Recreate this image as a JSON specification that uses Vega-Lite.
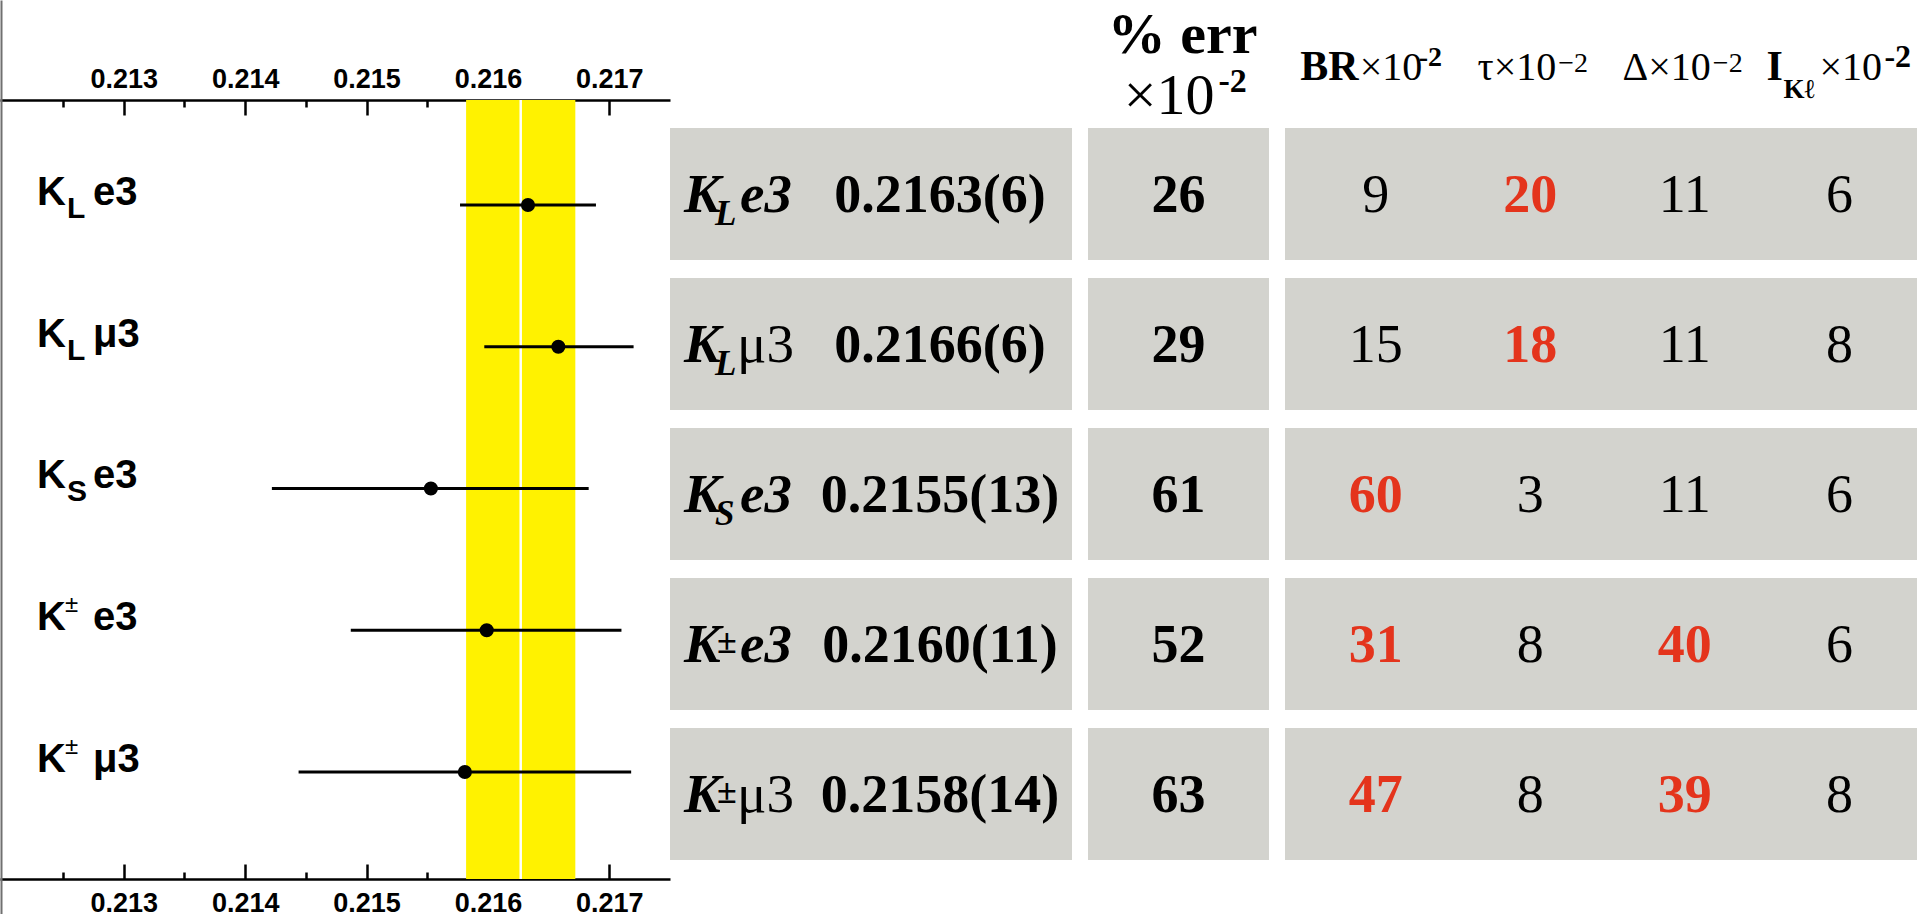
{
"$schema": "https://vega.github.io/schema/vega-lite/v6.json",
"padding": 0,
"background": "white",
"config": {"view": {"stroke": null}, "font": "Liberation Serif"},
"datasets": {
 "fit": [
  {"decay": "K_L e3", "row": 0, "value": 0.21633, "lo": 0.21577, "hi": 0.21689, "base": "K", "sub": "L", "sup": "", "rest": "e3"},
  {"decay": "K_L mu3", "row": 1, "value": 0.21658, "lo": 0.21597, "hi": 0.21720, "base": "K", "sub": "L", "sup": "", "rest": "μ3"},
  {"decay": "K_S e3", "row": 2, "value": 0.21553, "lo": 0.21422, "hi": 0.21683, "base": "K", "sub": "S", "sup": "", "rest": "e3"},
  {"decay": "K± e3", "row": 3, "value": 0.21599, "lo": 0.21487, "hi": 0.21710, "base": "K", "sub": "", "sup": "±", "rest": "e3"},
  {"decay": "K± mu3", "row": 4, "value": 0.21581, "lo": 0.21444, "hi": 0.21718, "base": "K", "sub": "", "sup": "±", "rest": "μ3"}
 ],
 "average": [{"mean": 0.21627, "lo": 0.21582, "hi": 0.21672}],
 "table": [
  {"decay": "K_L e3", "base": "K", "sub": "L", "sup": "", "rest": "e3", "vus": "0.2163(6)", "err": "26"},
  {"decay": "K_L mu3", "base": "K", "sub": "L", "sup": "", "rest": "μ3", "vus": "0.2166(6)", "err": "29"},
  {"decay": "K_S e3", "base": "K", "sub": "S", "sup": "", "rest": "e3", "vus": "0.2155(13)", "err": "61"},
  {"decay": "K± e3", "base": "K", "sub": "", "sup": "±", "rest": "e3", "vus": "0.2160(11)", "err": "52"},
  {"decay": "K± mu3", "base": "K", "sub": "", "sup": "±", "rest": "μ3", "vus": "0.2158(14)", "err": "63"}
 ],
 "contrib": [
  {"decay": "K_L e3", "source": "BR", "pct": "9", "major": false},
  {"decay": "K_L e3", "source": "tau", "pct": "20", "major": true},
  {"decay": "K_L e3", "source": "Delta", "pct": "11", "major": false},
  {"decay": "K_L e3", "source": "I", "pct": "6", "major": false},
  {"decay": "K_L mu3", "source": "BR", "pct": "15", "major": false},
  {"decay": "K_L mu3", "source": "tau", "pct": "18", "major": true},
  {"decay": "K_L mu3", "source": "Delta", "pct": "11", "major": false},
  {"decay": "K_L mu3", "source": "I", "pct": "8", "major": false},
  {"decay": "K_S e3", "source": "BR", "pct": "60", "major": true},
  {"decay": "K_S e3", "source": "tau", "pct": "3", "major": false},
  {"decay": "K_S e3", "source": "Delta", "pct": "11", "major": false},
  {"decay": "K_S e3", "source": "I", "pct": "6", "major": false},
  {"decay": "K± e3", "source": "BR", "pct": "31", "major": true},
  {"decay": "K± e3", "source": "tau", "pct": "8", "major": false},
  {"decay": "K± e3", "source": "Delta", "pct": "40", "major": true},
  {"decay": "K± e3", "source": "I", "pct": "6", "major": false},
  {"decay": "K± mu3", "source": "BR", "pct": "47", "major": true},
  {"decay": "K± mu3", "source": "tau", "pct": "8", "major": false},
  {"decay": "K± mu3", "source": "Delta", "pct": "39", "major": true},
  {"decay": "K± mu3", "source": "I", "pct": "8", "major": false}
 ],
 "headers": [
  {"col": "err", "title": "% err", "mult": "×10", "exp": "-2"},
  {"col": "BR", "title": "BR", "mult": "×10", "exp": "-2"},
  {"col": "tau", "title": "τ×10", "mult": "", "exp": "−2"},
  {"col": "Delta", "title": "Δ×10", "mult": "", "exp": "−2"},
  {"col": "I", "title": "I", "sub": "Kℓ", "mult": "×10", "exp": "-2"}
 ]
},
"spacing": 0,
"bounds": "flush",
"hconcat": [
 {
  "width": 670, "height": 914,
  "resolve": {"axis": {"x": "independent", "y": "independent"}},
  "layer": [
   {"data": {"name": "average"},
    "mark": {"type": "rect", "color": "#fff200"},
    "encoding": {
     "x": {"field": "lo", "type": "quantitative", "scale": {"domain": [0.21198, 0.2175], "nice": false, "zero": false},
       "axis": {"orient": "top", "offset": -100, "values": [0.213, 0.214, 0.215, 0.216, 0.217], "format": ".3f", "tickSize": -15, "tickWidth": 2.5, "tickColor": "black", "domain": true, "domainColor": "black", "domainWidth": 2.5, "labelFont": "Liberation Sans", "labelFontWeight": "bold", "labelFontSize": 27, "labelColor": "black", "labelPadding": 22, "labelFlush": false, "labelOverlap": false, "grid": false, "title": null}},
     "x2": {"field": "hi"},
     "y": {"datum": -0.7407, "type": "quantitative", "scale": {"domain": [-1.4462, 5.0018], "reverse": true, "nice": false, "zero": false},
       "axis": {"orient": "left", "offset": -1, "domain": true, "domainColor": "#707070", "domainWidth": 2, "ticks": false, "labels": false, "grid": false, "title": null}},
     "y2": {"datum": 4.7549}
    }},
   {"data": {"name": "average"},
    "mark": {"type": "rule", "color": "white", "strokeWidth": 2.5},
    "encoding": {
     "x": {"field": "mean", "type": "quantitative", "scale": {"domain": [0.21198, 0.2175], "nice": false, "zero": false},
       "axis": {"orient": "top", "offset": -100, "values": [0.2125, 0.2135, 0.2145, 0.2155, 0.2165], "tickSize": -7, "tickWidth": 2.5, "tickColor": "black", "domain": false, "labels": false, "grid": false, "title": null}},
     "y": {"datum": -0.7407, "type": "quantitative", "scale": {"domain": [-1.4462, 5.0018], "reverse": true, "nice": false, "zero": false}, "axis": null},
     "y2": {"datum": 4.7549}
    }},
   {"data": {"name": "fit"},
    "mark": {"type": "rule", "color": "black", "strokeWidth": 2.8},
    "encoding": {
     "x": {"field": "lo", "type": "quantitative", "scale": {"domain": [0.21198, 0.2175], "nice": false, "zero": false},
       "axis": {"orient": "bottom", "offset": -35, "values": [0.213, 0.214, 0.215, 0.216, 0.217], "format": ".3f", "tickSize": -15, "tickWidth": 2.5, "tickColor": "black", "domain": true, "domainColor": "black", "domainWidth": 2.5, "labelFont": "Liberation Sans", "labelFontWeight": "bold", "labelFontSize": 27, "labelColor": "black", "labelPadding": 26, "labelFlush": false, "labelOverlap": false, "grid": false, "title": null}},
     "x2": {"field": "hi"},
     "y": {"field": "row", "type": "quantitative", "scale": {"domain": [-1.4462, 5.0018], "reverse": true, "nice": false, "zero": false}, "axis": null}
    }},
   {"data": {"name": "fit"},
    "mark": {"type": "circle", "color": "black", "opacity": 1, "size": 200},
    "encoding": {
     "x": {"field": "value", "type": "quantitative", "scale": {"domain": [0.21198, 0.2175], "nice": false, "zero": false},
       "axis": {"orient": "bottom", "offset": -35, "values": [0.2125, 0.2135, 0.2145, 0.2155, 0.2165], "tickSize": -7, "tickWidth": 2.5, "tickColor": "black", "domain": false, "labels": false, "grid": false, "title": null}},
     "y": {"field": "row", "type": "quantitative", "scale": {"domain": [-1.4462, 5.0018], "reverse": true, "nice": false, "zero": false}, "axis": null}
    }},
   {"data": {"name": "fit"},
    "mark": {"type": "text", "font": "Liberation Sans", "fontWeight": "bold", "fontSize": 40, "align": "left", "baseline": "alphabetic", "dx": 37, "color": "black"},
    "encoding": {
     "x": {"datum": 0.21198, "type": "quantitative", "scale": {"domain": [0.21198, 0.2175], "nice": false, "zero": false}, "axis": null},
     "y": {"field": "row", "type": "quantitative", "scale": {"domain": [-1.4462, 5.0018], "reverse": true, "nice": false, "zero": false}, "axis": null},
     "text": {"field": "base"}
    }},
   {"data": {"name": "fit"},
    "transform": [{"filter": "datum.sub != ''"}],
    "mark": {"type": "text", "font": "Liberation Sans", "fontWeight": "bold", "fontSize": 30, "align": "left", "baseline": "alphabetic", "dx": 67, "dy": 13, "color": "black"},
    "encoding": {
     "x": {"datum": 0.21198, "type": "quantitative", "scale": {"domain": [0.21198, 0.2175], "nice": false, "zero": false}, "axis": null},
     "y": {"field": "row", "type": "quantitative", "scale": {"domain": [-1.4462, 5.0018], "reverse": true, "nice": false, "zero": false}, "axis": null},
     "text": {"field": "sub"}
    }},
   {"data": {"name": "fit"},
    "transform": [{"filter": "datum.sup != ''"}],
    "mark": {"type": "text", "font": "Liberation Sans", "fontWeight": "normal", "fontSize": 24, "align": "left", "baseline": "alphabetic", "dx": 65, "dy": -18, "color": "black"},
    "encoding": {
     "x": {"datum": 0.21198, "type": "quantitative", "scale": {"domain": [0.21198, 0.2175], "nice": false, "zero": false}, "axis": null},
     "y": {"field": "row", "type": "quantitative", "scale": {"domain": [-1.4462, 5.0018], "reverse": true, "nice": false, "zero": false}, "axis": null},
     "text": {"field": "sup"}
    }},
   {"data": {"name": "fit"},
    "mark": {"type": "text", "font": "Liberation Sans", "fontWeight": "bold", "fontSize": 40, "align": "left", "baseline": "alphabetic", "dx": 93, "color": "black"},
    "encoding": {
     "x": {"datum": 0.21198, "type": "quantitative", "scale": {"domain": [0.21198, 0.2175], "nice": false, "zero": false}, "axis": null},
     "y": {"field": "row", "type": "quantitative", "scale": {"domain": [-1.4462, 5.0018], "reverse": true, "nice": false, "zero": false}, "axis": null},
     "text": {"field": "rest"}
    }}
  ]
 },
 {
  "spacing": 16,
  "bounds": "flush",
  "hconcat": [
   {
    "width": 402, "height": 914,
    "data": {"name": "table"},
    "layer": [
     {"mark": {"type": "rect", "color": "#d3d3ce"},
      "encoding": {
       "x": {"value": 0}, "x2": {"value": "width"},
       "y": {"field": "decay", "type": "nominal", "scale": {"type": "band", "domain": ["K_L e3", "K_L mu3", "K_S e3", "K± e3", "K± mu3"], "paddingInner": 0.12, "paddingOuter": 0.6067, "align": 0.703}, "axis": null}
      }},
     {"mark": {"type": "text", "font": "Liberation Serif", "fontWeight": "bold", "fontStyle": "italic", "fontSize": 55, "align": "left", "baseline": "alphabetic", "dy": 18, "color": "black"},
      "encoding": {
       "x": {"datum": "name", "type": "nominal", "scale": {"type": "point", "domain": ["name", "value"], "padding": 0.285, "align": 0.096}, "axis": null},
       "y": {"field": "decay", "type": "nominal", "scale": {"type": "band", "domain": ["K_L e3", "K_L mu3", "K_S e3", "K± e3", "K± mu3"], "paddingInner": 0.12, "paddingOuter": 0.6067, "align": 0.703}, "axis": null},
       "text": {"field": "base"}
      }},
     {"transform": [{"filter": "datum.sub != ''"}],
      "mark": {"type": "text", "font": "Liberation Serif", "fontWeight": "bold", "fontStyle": "italic", "fontSize": 35, "align": "left", "baseline": "alphabetic", "dx": 31, "dy": 31, "color": "black"},
      "encoding": {
       "x": {"datum": "name", "type": "nominal", "scale": {"type": "point", "domain": ["name", "value"], "padding": 0.285, "align": 0.096}, "axis": null},
       "y": {"field": "decay", "type": "nominal", "scale": {"type": "band", "domain": ["K_L e3", "K_L mu3", "K_S e3", "K± e3", "K± mu3"], "paddingInner": 0.12, "paddingOuter": 0.6067, "align": 0.703}, "axis": null},
       "text": {"field": "sub"}
      }},
     {"transform": [{"filter": "datum.sup != ''"}],
      "mark": {"type": "text", "font": "Liberation Serif", "fontWeight": "bold", "fontSize": 36, "align": "left", "baseline": "alphabetic", "dx": 33, "dy": 9, "color": "black"},
      "encoding": {
       "x": {"datum": "name", "type": "nominal", "scale": {"type": "point", "domain": ["name", "value"], "padding": 0.285, "align": 0.096}, "axis": null},
       "y": {"field": "decay", "type": "nominal", "scale": {"type": "band", "domain": ["K_L e3", "K_L mu3", "K_S e3", "K± e3", "K± mu3"], "paddingInner": 0.12, "paddingOuter": 0.6067, "align": 0.703}, "axis": null},
       "text": {"field": "sup"}
      }},
     {"transform": [{"filter": "datum.rest == 'e3'"}],
      "mark": {"type": "text", "font": "Liberation Serif", "fontWeight": "bold", "fontStyle": "italic", "fontSize": 55, "align": "left", "baseline": "alphabetic", "dx": 56, "dy": 18, "color": "black"},
      "encoding": {
       "x": {"datum": "name", "type": "nominal", "scale": {"type": "point", "domain": ["name", "value"], "padding": 0.285, "align": 0.096}, "axis": null},
       "y": {"field": "decay", "type": "nominal", "scale": {"type": "band", "domain": ["K_L e3", "K_L mu3", "K_S e3", "K± e3", "K± mu3"], "paddingInner": 0.12, "paddingOuter": 0.6067, "align": 0.703}, "axis": null},
       "text": {"field": "rest"}
      }},
     {"transform": [{"filter": "datum.rest != 'e3'"}],
      "mark": {"type": "text", "font": "Liberation Serif", "fontWeight": "normal", "fontSize": 55, "align": "left", "baseline": "alphabetic", "dx": 53, "dy": 18, "color": "black"},
      "encoding": {
       "x": {"datum": "name", "type": "nominal", "scale": {"type": "point", "domain": ["name", "value"], "padding": 0.285, "align": 0.096}, "axis": null},
       "y": {"field": "decay", "type": "nominal", "scale": {"type": "band", "domain": ["K_L e3", "K_L mu3", "K_S e3", "K± e3", "K± mu3"], "paddingInner": 0.12, "paddingOuter": 0.6067, "align": 0.703}, "axis": null},
       "text": {"field": "rest"}
      }},
     {"mark": {"type": "text", "font": "Liberation Serif", "fontWeight": "bold", "fontSize": 54, "align": "center", "baseline": "alphabetic", "dy": 18, "color": "black"},
      "encoding": {
       "x": {"datum": "value", "type": "nominal", "scale": {"type": "point", "domain": ["name", "value"], "padding": 0.285, "align": 0.096}, "axis": null},
       "y": {"field": "decay", "type": "nominal", "scale": {"type": "band", "domain": ["K_L e3", "K_L mu3", "K_S e3", "K± e3", "K± mu3"], "paddingInner": 0.12, "paddingOuter": 0.6067, "align": 0.703}, "axis": null},
       "text": {"field": "vus"}
      }}
    ]
   },
   {
    "width": 181, "height": 914,
    "data": {"name": "table"},
    "layer": [
     {"mark": {"type": "rect", "color": "#d3d3ce"},
      "encoding": {
       "x": {"value": 0}, "x2": {"value": "width"},
       "y": {"field": "decay", "type": "nominal", "scale": {"type": "band", "domain": ["K_L e3", "K_L mu3", "K_S e3", "K± e3", "K± mu3"], "paddingInner": 0.12, "paddingOuter": 0.6067, "align": 0.703}, "axis": null}
      }},
     {"mark": {"type": "text", "font": "Liberation Serif", "fontWeight": "bold", "fontSize": 54, "align": "center", "baseline": "alphabetic", "dy": 18, "color": "black"},
      "encoding": {
       "y": {"field": "decay", "type": "nominal", "scale": {"type": "band", "domain": ["K_L e3", "K_L mu3", "K_S e3", "K± e3", "K± mu3"], "paddingInner": 0.12, "paddingOuter": 0.6067, "align": 0.703}, "axis": null},
       "text": {"field": "err"}
      }},
     {"data": {"name": "headers"},
      "transform": [{"filter": "datum.col == 'err'"}],
      "mark": {"type": "text", "font": "Liberation Serif", "fontWeight": "bold", "fontSize": 58, "align": "center", "baseline": "alphabetic", "dx": 4, "dy": -141, "color": "black"},
      "encoding": {
       "y": {"datum": "K_L e3", "type": "nominal", "scale": {"type": "band", "domain": ["K_L e3", "K_L mu3", "K_S e3", "K± e3", "K± mu3"], "paddingInner": 0.12, "paddingOuter": 0.6067, "align": 0.703}, "axis": null},
       "text": {"field": "title"}
      }},
     {"data": {"name": "headers"},
      "transform": [{"filter": "datum.col == 'err'"}],
      "mark": {"type": "text", "font": "Liberation Serif", "fontWeight": "normal", "fontSize": 58, "align": "right", "baseline": "alphabetic", "dx": 36, "dy": -80, "color": "black"},
      "encoding": {
       "y": {"datum": "K_L e3", "type": "nominal", "scale": {"type": "band", "domain": ["K_L e3", "K_L mu3", "K_S e3", "K± e3", "K± mu3"], "paddingInner": 0.12, "paddingOuter": 0.6067, "align": 0.703}, "axis": null},
       "text": {"field": "mult"}
      }},
     {"data": {"name": "headers"},
      "transform": [{"filter": "datum.col == 'err'"}],
      "mark": {"type": "text", "font": "Liberation Serif", "fontWeight": "bold", "fontSize": 34, "align": "left", "baseline": "alphabetic", "dx": 40, "dy": -102, "color": "black"},
      "encoding": {
       "y": {"datum": "K_L e3", "type": "nominal", "scale": {"type": "band", "domain": ["K_L e3", "K_L mu3", "K_S e3", "K± e3", "K± mu3"], "paddingInner": 0.12, "paddingOuter": 0.6067, "align": 0.703}, "axis": null},
       "text": {"field": "exp"}
      }}
    ]
   },
   {
    "width": 632, "height": 914,
    "layer": [
     {"data": {"name": "table"},
      "mark": {"type": "rect", "color": "#d3d3ce"},
      "encoding": {
       "x": {"value": 0}, "x2": {"value": "width"},
       "y": {"field": "decay", "type": "nominal", "scale": {"type": "band", "domain": ["K_L e3", "K_L mu3", "K_S e3", "K± e3", "K± mu3"], "paddingInner": 0.12, "paddingOuter": 0.6067, "align": 0.703}, "axis": null}
      }},
     {"data": {"name": "contrib"},
      "transform": [{"filter": "!datum.major"}],
      "mark": {"type": "text", "font": "Liberation Serif", "fontWeight": "normal", "fontSize": 54, "align": "center", "baseline": "alphabetic", "dy": 18, "color": "black"},
      "encoding": {
       "x": {"field": "source", "type": "nominal", "scale": {"type": "point", "domain": ["BR", "tau", "Delta", "I"], "padding": 0.544, "align": 0.539}, "axis": null},
       "y": {"field": "decay", "type": "nominal", "scale": {"type": "band", "domain": ["K_L e3", "K_L mu3", "K_S e3", "K± e3", "K± mu3"], "paddingInner": 0.12, "paddingOuter": 0.6067, "align": 0.703}, "axis": null},
       "text": {"field": "pct"}
      }},
     {"data": {"name": "contrib"},
      "transform": [{"filter": "datum.major"}],
      "mark": {"type": "text", "font": "Liberation Serif", "fontWeight": "bold", "fontSize": 54, "align": "center", "baseline": "alphabetic", "dy": 18, "color": "#e4341c"},
      "encoding": {
       "x": {"field": "source", "type": "nominal", "scale": {"type": "point", "domain": ["BR", "tau", "Delta", "I"], "padding": 0.544, "align": 0.539}, "axis": null},
       "y": {"field": "decay", "type": "nominal", "scale": {"type": "band", "domain": ["K_L e3", "K_L mu3", "K_S e3", "K± e3", "K± mu3"], "paddingInner": 0.12, "paddingOuter": 0.6067, "align": 0.703}, "axis": null},
       "text": {"field": "pct"}
      }},
     {"data": {"name": "headers"},
      "transform": [{"filter": "datum.col == 'BR'"}],
      "mark": {"type": "text", "font": "Liberation Serif", "fontWeight": "bold", "fontSize": 42, "align": "right", "baseline": "alphabetic", "dx": -17, "dy": -114, "color": "black"},
      "encoding": {
       "x": {"field": "col", "type": "nominal", "scale": {"type": "point", "domain": ["BR", "tau", "Delta", "I"], "padding": 0.544, "align": 0.539}, "axis": null},
       "y": {"datum": "K_L e3", "type": "nominal", "scale": {"type": "band", "domain": ["K_L e3", "K_L mu3", "K_S e3", "K± e3", "K± mu3"], "paddingInner": 0.12, "paddingOuter": 0.6067, "align": 0.703}, "axis": null},
       "text": {"field": "title"}
      }},
     {"data": {"name": "headers"},
      "transform": [{"filter": "datum.col == 'BR'"}],
      "mark": {"type": "text", "font": "Liberation Serif", "fontWeight": "normal", "fontSize": 40, "align": "left", "baseline": "alphabetic", "dx": -16, "dy": -114, "color": "black"},
      "encoding": {
       "x": {"field": "col", "type": "nominal", "scale": {"type": "point", "domain": ["BR", "tau", "Delta", "I"], "padding": 0.544, "align": 0.539}, "axis": null},
       "y": {"datum": "K_L e3", "type": "nominal", "scale": {"type": "band", "domain": ["K_L e3", "K_L mu3", "K_S e3", "K± e3", "K± mu3"], "paddingInner": 0.12, "paddingOuter": 0.6067, "align": 0.703}, "axis": null},
       "text": {"field": "mult"}
      }},
     {"data": {"name": "headers"},
      "transform": [{"filter": "datum.col == 'BR'"}],
      "mark": {"type": "text", "font": "Liberation Serif", "fontWeight": "bold", "fontSize": 28, "align": "left", "baseline": "alphabetic", "dx": 43, "dy": -128, "color": "black"},
      "encoding": {
       "x": {"field": "col", "type": "nominal", "scale": {"type": "point", "domain": ["BR", "tau", "Delta", "I"], "padding": 0.544, "align": 0.539}, "axis": null},
       "y": {"datum": "K_L e3", "type": "nominal", "scale": {"type": "band", "domain": ["K_L e3", "K_L mu3", "K_S e3", "K± e3", "K± mu3"], "paddingInner": 0.12, "paddingOuter": 0.6067, "align": 0.703}, "axis": null},
       "text": {"field": "exp"}
      }},
     {"data": {"name": "headers"},
      "transform": [{"filter": "datum.col == 'tau' || datum.col == 'Delta'"}],
      "mark": {"type": "text", "font": "Liberation Serif", "fontWeight": "normal", "fontSize": 40, "align": "right", "baseline": "alphabetic", "dx": 26, "dy": -114, "color": "black"},
      "encoding": {
       "x": {"field": "col", "type": "nominal", "scale": {"type": "point", "domain": ["BR", "tau", "Delta", "I"], "padding": 0.544, "align": 0.539}, "axis": null},
       "y": {"datum": "K_L e3", "type": "nominal", "scale": {"type": "band", "domain": ["K_L e3", "K_L mu3", "K_S e3", "K± e3", "K± mu3"], "paddingInner": 0.12, "paddingOuter": 0.6067, "align": 0.703}, "axis": null},
       "text": {"field": "title"}
      }},
     {"data": {"name": "headers"},
      "transform": [{"filter": "datum.col == 'tau' || datum.col == 'Delta'"}],
      "mark": {"type": "text", "font": "Liberation Serif", "fontWeight": "normal", "fontSize": 28, "align": "left", "baseline": "alphabetic", "dx": 28, "dy": -122, "color": "black"},
      "encoding": {
       "x": {"field": "col", "type": "nominal", "scale": {"type": "point", "domain": ["BR", "tau", "Delta", "I"], "padding": 0.544, "align": 0.539}, "axis": null},
       "y": {"datum": "K_L e3", "type": "nominal", "scale": {"type": "band", "domain": ["K_L e3", "K_L mu3", "K_S e3", "K± e3", "K± mu3"], "paddingInner": 0.12, "paddingOuter": 0.6067, "align": 0.703}, "axis": null},
       "text": {"field": "exp"}
      }},
     {"data": {"name": "headers"},
      "transform": [{"filter": "datum.col == 'I'"}],
      "mark": {"type": "text", "font": "Liberation Serif", "fontWeight": "bold", "fontSize": 42, "align": "left", "baseline": "alphabetic", "dx": -73, "dy": -114, "color": "black"},
      "encoding": {
       "x": {"field": "col", "type": "nominal", "scale": {"type": "point", "domain": ["BR", "tau", "Delta", "I"], "padding": 0.544, "align": 0.539}, "axis": null},
       "y": {"datum": "K_L e3", "type": "nominal", "scale": {"type": "band", "domain": ["K_L e3", "K_L mu3", "K_S e3", "K± e3", "K± mu3"], "paddingInner": 0.12, "paddingOuter": 0.6067, "align": 0.703}, "axis": null},
       "text": {"field": "title"}
      }},
     {"data": {"name": "headers"},
      "transform": [{"filter": "datum.col == 'I'"}],
      "mark": {"type": "text", "font": "Liberation Serif", "fontWeight": "bold", "fontSize": 27, "align": "left", "baseline": "alphabetic", "dx": -56, "dy": -96, "color": "black"},
      "encoding": {
       "x": {"field": "col", "type": "nominal", "scale": {"type": "point", "domain": ["BR", "tau", "Delta", "I"], "padding": 0.544, "align": 0.539}, "axis": null},
       "y": {"datum": "K_L e3", "type": "nominal", "scale": {"type": "band", "domain": ["K_L e3", "K_L mu3", "K_S e3", "K± e3", "K± mu3"], "paddingInner": 0.12, "paddingOuter": 0.6067, "align": 0.703}, "axis": null},
       "text": {"field": "sub"}
      }},
     {"data": {"name": "headers"},
      "transform": [{"filter": "datum.col == 'I'"}],
      "mark": {"type": "text", "font": "Liberation Serif", "fontWeight": "normal", "fontSize": 40, "align": "left", "baseline": "alphabetic", "dx": -20, "dy": -114, "color": "black"},
      "encoding": {
       "x": {"field": "col", "type": "nominal", "scale": {"type": "point", "domain": ["BR", "tau", "Delta", "I"], "padding": 0.544, "align": 0.539}, "axis": null},
       "y": {"datum": "K_L e3", "type": "nominal", "scale": {"type": "band", "domain": ["K_L e3", "K_L mu3", "K_S e3", "K± e3", "K± mu3"], "paddingInner": 0.12, "paddingOuter": 0.6067, "align": 0.703}, "axis": null},
       "text": {"field": "mult"}
      }},
     {"data": {"name": "headers"},
      "transform": [{"filter": "datum.col == 'I'"}],
      "mark": {"type": "text", "font": "Liberation Serif", "fontWeight": "bold", "fontSize": 32, "align": "left", "baseline": "alphabetic", "dx": 45, "dy": -127, "color": "black"},
      "encoding": {
       "x": {"field": "col", "type": "nominal", "scale": {"type": "point", "domain": ["BR", "tau", "Delta", "I"], "padding": 0.544, "align": 0.539}, "axis": null},
       "y": {"datum": "K_L e3", "type": "nominal", "scale": {"type": "band", "domain": ["K_L e3", "K_L mu3", "K_S e3", "K± e3", "K± mu3"], "paddingInner": 0.12, "paddingOuter": 0.6067, "align": 0.703}, "axis": null},
       "text": {"field": "exp"}
      }}
    ]
   }
  ]
 }
]
}
